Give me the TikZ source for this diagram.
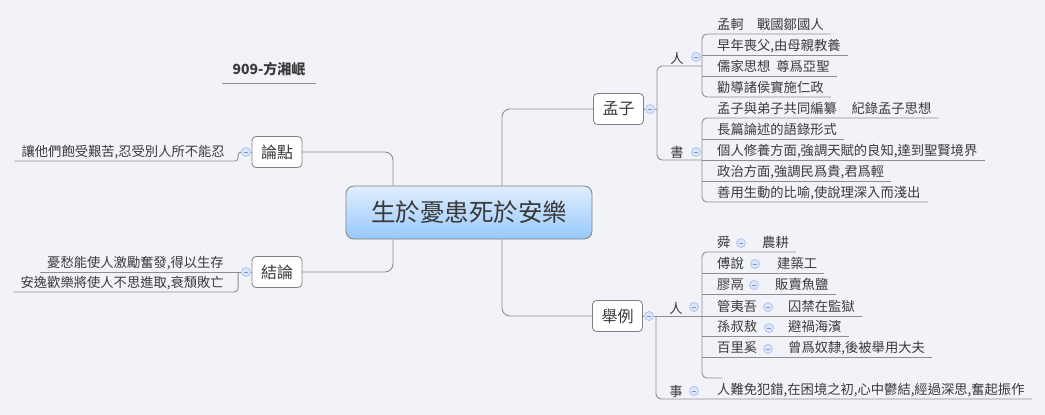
\documentclass[tikz,border=0pt]{standalone}
\usepackage{fontspec}
\setmainfont{Noto Sans CJK TC}
\definecolor{bgc}{HTML}{F2F3F9}
\definecolor{linec}{HTML}{8E8E8E}
\definecolor{boxc}{HTML}{808080}
\definecolor{txtc}{HTML}{3A3A3A}
\definecolor{togfill}{HTML}{DCE6FA}
\definecolor{togdraw}{HTML}{A6BFEC}
\definecolor{togmin}{HTML}{7D97C9}
\definecolor{roottop}{HTML}{E0EEFD}
\definecolor{rootbot}{HTML}{98C8FB}
\begin{document}
\begin{tikzpicture}[x=1pt,y=-1pt,
 conn/.style={draw=linec, line width=0.9pt},
 rc/.style={rounded corners=5pt},
 rootbox/.style={draw=boxc, line width=0.8pt, rounded corners=8pt, top color=roottop, bottom color=rootbot, minimum width=246pt, minimum height=53pt, inner sep=0pt, font=\fontsize{24.5}{28}\selectfont, text=txtc},
 mainbox/.style={draw=boxc, fill=white, rounded corners=4pt, minimum width=50pt, minimum height=31pt, inner sep=0pt, font=\fontsize{16}{19}\selectfont, text=txtc, line width=0.8pt},
 leaf/.style={anchor=south west, inner xsep=7pt, inner ysep=1.5pt, font=\fontsize{13.3}{16}\selectfont, text=txtc, text height=11pt, text depth=2.5pt},
 leafl/.style={leaf, anchor=south east},
 lab/.style={inner sep=0pt, font=\fontsize{13.3}{16}\selectfont, text=txtc},
 tog/.style={circle, draw=togdraw, fill=togfill, minimum size=9pt, inner sep=0pt, line width=0.7pt, path picture={\draw[togmin, line width=0.8pt] ([xshift=-2.3pt]path picture bounding box.center) -- ([xshift=2.3pt]path picture bounding box.center);}},
]
\fill[bgc] (0,0) rectangle (1045,415);
\useasboundingbox (0,0) rectangle (1045,415);

% title
\node[anchor=south, minimum width=94pt, inner ysep=5.5pt, text height=11pt, text depth=2.5pt, font=\fontsize{14}{16}\selectfont\bfseries, text=txtc] (tt) at (269,83) {909-方湘岷};
\draw[conn] (tt.south west) -- (tt.south east);

% root and main branches
\node[rootbox] (root) at (469,212.5) {生於憂患死於安樂};
\node[mainbox] (ld) at (277,152) {論點};
\node[mainbox] (jl2) at (277,272) {結論};
\node[mainbox] (mz) at (618.5,109) {孟子};
\node[mainbox] (jl) at (617.5,316) {舉例};

\draw[conn, rounded corners=8pt] (ld.east) -| ([xshift=-76pt]root.north);
\draw[conn, rounded corners=8pt] (jl2.east) -| ([xshift=-76pt]root.south);
\draw[conn, rounded corners=8pt] ([xshift=33pt]root.north) |- (mz.west);
\draw[conn, rounded corners=8pt] ([xshift=33pt]root.south) |- (jl.west);

% toggles of main branches
\node[tog] (ldt) at (246,152) {};
\node[tog] (jlt2) at (246,272) {};
\node[tog] (mzt) at (650,109) {};
\node[tog] (jlt) at (649,316) {};
\draw[conn] (ld.west) -- (ldt.east);
\draw[conn] (jl2.west) -- (jlt2.east);
\draw[conn] (mz.east) -- (mzt.west);
\draw[conn] (jl.east) -- (jlt.west);

% ---------- left: 論點
\node[leafl] (lc1) at (232,161) {讓他們飽受艱苦,忍受別人所不能忍};
\draw[conn, rounded corners=3pt] (lc1.south west) -| ([xshift=-3pt]ldt.west) -- (ldt.west);

% ---------- left: 結論
\node[leafl] (e1) at (231,272) {憂愁能使人激勵奮發,得以生存};
\node[leafl] (e2) at (231,292) {安逸歡樂將使人不思進取,衰頹敗亡};
\draw[conn] (e1.south west) -- (jlt2.west);
\draw[conn, rounded corners=4pt] (e2.south west) -| ([xshift=-3pt]jlt2.west);

% ---------- right: 孟子
\coordinate (mzv) at (657,109);
\coordinate (mrv) at (702,66);
\coordinate (msv) at (702,160);
\draw[conn] (mzt.east) -- (mzv);
\draw[conn, rc] (mrv) -| (mzv) |- (msv);

\node[lab] (mrl) at (677,58) {人};
\node[tog] (mrt) at (696,57) {};
\node[lab] (msl) at (677,152) {書};
\node[tog] (mst) at (696,152) {};

\node[leaf] (a1) at (710,34) {孟軻\hspace*{1em}戰國鄒國人};
\node[leaf] (a2) at (710,55) {早年喪父,由母親教養};
\node[leaf] (a3) at (710,76) {儒家思想\hspace*{0.45em}尊爲亞聖};
\node[leaf] (a4) at (710,97) {勸導諸侯實施仁政};
\draw[conn, rc] (a1.south east) -| (mrv) |- (a4.south east);
\draw[conn] (mrv |- a2.south) -- (a2.south east);
\draw[conn] (mrv |- a3.south) -- (a3.south east);

\node[leaf] (b1) at (710,118) {孟子與弟子共同編纂\hspace*{1.1em}紀錄孟子思想};
\node[leaf] (b2) at (710,139) {長篇論述的語錄形式};
\node[leaf] (b3) at (710,160) {個人修養方面,強調天賦的良知,達到聖賢境界};
\node[leaf] (b4) at (710,181) {政治方面,強調民爲貴,君爲輕};
\node[leaf] (b5) at (710,202) {善用生動的比喻,使說理深入而淺出};
\draw[conn, rc] (b1.south east) -| (msv) |- (b5.south east);
\draw[conn] (msv |- b2.south) -- (b2.south east);
\draw[conn] (msv |- b3.south) -- (b3.south east);
\draw[conn] (msv |- b4.south) -- (b4.south east);

% ---------- right: 舉例
\coordinate (jlv) at (656,316);
\coordinate (jrv) at (702,316);
\coordinate (c7) at (722,378);
\draw[conn] (jlt.east) -- (jrv);

\node[lab] (jrl) at (676,308) {人};
\node[tog] (jrt) at (694,307) {};
\node[lab] (jsl) at (676,391) {事};
\node[tog] (jst) at (694,391) {};

\node[leaf] (sd) at (710,399) {人難免犯錯,在困境之初,心中鬱結,經過深思,奮起振作};
\draw[conn, rc] (jlv) |- (sd.south east);

\node[leaf] (n1) at (710,252) {舜};
\node[tog] (t1) at (741,243) {};
\node[leaf] (d1) at (755,252) {農耕};
\node[leaf] (n2) at (710,273) {傅說};
\node[tog] (t2) at (755,264) {};
\node[leaf] (d2) at (770,273) {建築工};
\node[leaf] (n3) at (710,294) {膠鬲};
\node[tog] (t3) at (754,285) {};
\node[leaf] (d3) at (768,294) {販賣魚鹽};
\node[leaf] (n4) at (710,316) {管夷吾};
\node[tog] (t4) at (768,307) {};
\node[leaf] (d4) at (781,316) {囚禁在監獄};
\node[leaf] (n5) at (710,336) {孫叔敖};
\node[tog] (t5) at (769,328) {};
\node[leaf] (d5) at (781,336) {避禍海濱};
\node[leaf] (n6) at (710,357) {百里奚};
\node[tog] (t6) at (768,349) {};
\node[leaf] (d6) at (781,357) {曾爲奴隸,後被舉用大夫};

\draw[conn, rc] (d1.south east) -| (jrv) |- (c7);
\draw[conn] (jrv |- d2.south) -- (d2.south east);
\draw[conn] (jrv |- d3.south) -- (d3.south east);
\draw[conn] (jrv |- d4.south) -- (d4.south east);
\draw[conn] (jrv |- d5.south) -- (d5.south east);
\draw[conn] (jrv |- d6.south) -- (d6.south east);
\end{tikzpicture}
\end{document}
